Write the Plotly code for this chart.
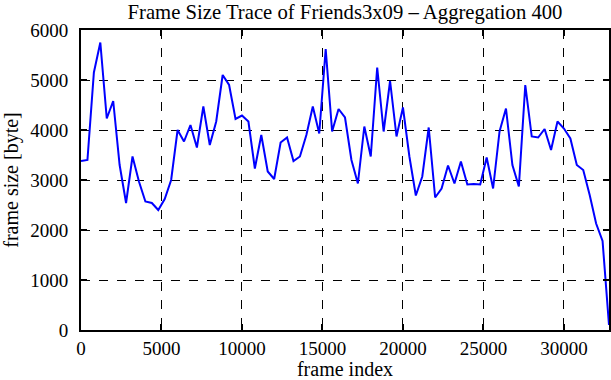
import plotly.graph_objects as go

step = 400
frame_size = [3380, 3400, 5150, 5750, 4230, 4580, 3300, 2540, 3470, 2970,
              2570, 2540, 2400, 2620, 3000, 4000, 3770, 4100, 3650, 4470,
              3700, 4170, 5100, 4900, 4220, 4290, 4170, 3230, 3900, 3170,
              3020, 3750, 3850, 3380, 3470, 3900, 4470, 3930, 5620, 3970,
              4420, 4250, 3400, 2930, 4070, 3470, 5250, 3970, 4980, 3870,
              4450, 3470, 2690, 3070, 4050, 2650, 2830, 3290, 2930, 3370,
              2910, 2920, 2910, 3450, 2830, 3970, 4430, 3300, 2870, 4900,
              3870, 3850, 4020, 3600, 4170, 4030, 3830, 3300, 3200, 2700,
              2130, 1780, 100]
frame_index = [i * step for i in range(len(frame_size))]

x_ticks = [0, 5000, 10000, 15000, 20000, 25000, 30000]
x_labels = ["0", "5000", "10000", "15000", "20000", "25000", "30000"]
y_ticks = [0, 1000, 2000, 3000, 4000, 5000, 6000]
y_labels = ["0", "1000", "2000", "3000", "4000", "5000", "6000"]

family = "Liberation Serif, Times New Roman, serif"
font = dict(family=family, size=20, color="black")
tick_font = dict(family=family, size=19, color="black")
title_font = dict(family=family, size=20.7, color="black")

fig = go.Figure(go.Scatter(x=frame_index, y=frame_size, mode="lines",
                           line=dict(color="#0000ff", width=2)))

axis_common = dict(showline=True, linecolor="black", linewidth=2, mirror="ticks",
                   ticks="inside", ticklen=6, tickcolor="black", tickwidth=1.5,
                   showgrid=True, gridcolor="black", griddash="dash", gridwidth=1,
                   zeroline=False, tickfont=tick_font, automargin=False)

fig.update_layout(
    width=611, height=380,
    margin=dict(l=81, r=2, t=30, b=50),
    paper_bgcolor="white", plot_bgcolor="white",
    showlegend=False,
    font=font,
    title=dict(text="Frame Size Trace of Friends3x09 \u2013 Aggregation 400",
               xref="paper", x=0.5, xanchor="center", y=0.968, yanchor="middle",
               font=title_font),
    xaxis=dict(range=[0, 32800], tickvals=x_ticks, ticktext=x_labels,
               title=dict(text="frame index", font=font, standoff=8), **axis_common),
    yaxis=dict(range=[0, 6000], tickvals=y_ticks, ticktext=y_labels,
               ticklabelstandoff=7,
               title=dict(text="frame size [byte]", font=font, standoff=12), **axis_common),
)

fig.write_html("out.html", config={"displayModeBar": False},
               post_script="document.body.style.margin='0';")
